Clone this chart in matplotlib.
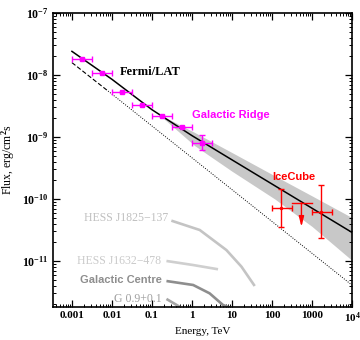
import numpy as np
import matplotlib
matplotlib.use('Agg')
import matplotlib.pyplot as plt

plt.rcParams['font.family'] = ['Liberation Serif', 'DejaVu Serif']
plt.rcParams['font.weight'] = 'bold'
plt.rcParams['mathtext.fontset'] = 'custom'
plt.rcParams['mathtext.rm'] = 'Liberation Serif:bold'
plt.rcParams['mathtext.it'] = 'Liberation Serif:bold'
plt.rcParams['mathtext.bf'] = 'Liberation Serif:bold'

# Fermi/LAT galactic ridge spectrum (TeV, erg/cm2 s)
fermi_e = [0.00178, 0.0056, 0.0178, 0.056, 0.178, 0.56, 1.78]
fermi_elo = [0.001, 0.00316, 0.01, 0.0316, 0.1, 0.316, 1.0]
fermi_ehi = [0.00316, 0.01, 0.0316, 0.1, 0.316, 1.0, 3.16]
fermi_f = [1.79e-8, 1.06e-8, 5.4e-9, 3.28e-9, 2.14e-9, 1.43e-9, 8.1e-10]
fermi_fhi = [None, None, None, None, None, None, 1.08e-9]
fermi_flo = [None, None, None, None, None, None, 6.2e-10]

# IceCube points
ice_e = [172, 1718]
ice_elo = [100, 1000]
ice_ehi = [316, 3160]
ice_f = [7.1e-11, 6.2e-11]
ice_fhi = [1.43e-10, 1.68e-10]
ice_flo = [3.57e-11, 2.32e-11]
# IceCube upper limit
ul_e = 543
ul_elo, ul_ehi = 316, 1000
ul_f = 8.7e-11
ul_end = 3.55e-11

# best fit line and its uncertainty band
line_e = [1e-3, 1e-2, 1e-1, 1, 10, 100, 1000, 1e4]
line_f = [2.4e-8, 8.5e-9, 2.75e-9, 1.05e-9, 4.27e-10, 1.74e-10, 7.08e-11, 2.88e-11]
band_e = [0.14, 1.17, 10, 117, 1000, 1e4]
band_hi = [2.38e-9, 1.18e-9, 5.6e-10, 2.36e-10, 1.12e-10, 5.0e-11]
band_lo = [2.38e-9, 7.24e-10, 2.8e-10, 1.0e-10, 3.6e-11, 1.02e-11]

# simple power law (dashed in Fermi range, dotted extrapolation)
pl_e = [1e-3, 8e-3, 1e4]
pl_f = [1.58e-8, 5.5e-9, 4.07e-12]

# HESS sources
j1825_e = [0.305, 1.56, 7.24, 17.2, 36.9]
j1825_f = [4.47e-11, 3.16e-11, 1.5e-11, 8.1e-12, 3.95e-12]
j1632_e = [0.23, 1.07, 4.47]
j1632_f = [1.0e-11, 8.6e-12, 7.35e-12]
gc_e = [0.23, 1.07, 2.75, 5.96, 10.5]
gc_f = [4.75e-12, 4.1e-12, 3.01e-12, 1.95e-12, 1.7e-12]
g09_e = [0.23, 0.49, 0.7]
g09_f = [2.44e-12, 1.83e-12, 1.48e-12]

xticks = [1e-3, 1e-2, 1e-1, 1, 10, 100, 1000, 1e4]
xticklabels = ['0.001', '0.01', '0.1', '1', '10', '100', '1000', '$10^4$']
yticks = [1e-11, 1e-10, 1e-9, 1e-8, 1e-7]
yticklabels = ['$10^{-11}$', '$10^{-10}$', '$10^{-9}$', '$10^{-8}$', '$10^{-7}$']

fig = plt.figure(figsize=(3.6, 3.4), dpi=100)
ax = fig.add_axes([0.147, 0.098, 0.831, 0.864])
ax.set_xscale('log')
ax.set_yscale('log')

ax.fill_between(band_e, band_lo, band_hi, color='#c8c8c8', lw=0, zorder=1)
ax.plot(line_e, line_f, color='black', lw=1.1, zorder=3)
ax.plot(pl_e[:2], pl_f[:2], color='black', lw=0.8, ls=(0, (4, 2)), zorder=2)
ax.plot(pl_e[1:], pl_f[1:], color='black', lw=0.7, ls=(0, (1, 1.5)), zorder=2)

ax.plot(j1825_e, j1825_f, color='#c4c4c4', lw=1.9, solid_capstyle='butt')
ax.plot(j1632_e, j1632_f, color='#cfcfcf', lw=1.9, solid_capstyle='butt')
ax.plot(gc_e, gc_f, color='#8e8e8e', lw=1.9, solid_capstyle='butt')
ax.plot(g09_e, g09_f, color='#a6a6a6', lw=1.9, solid_capstyle='butt')

# Fermi points
fe = np.array(fermi_e)
ff = np.array(fermi_f)
xerr = [fe - np.array(fermi_elo), np.array(fermi_ehi) - fe]
yerr_lo = [0 if v is None else f - v for f, v in zip(fermi_f, fermi_flo)]
yerr_hi = [0 if v is None else v - f for f, v in zip(fermi_f, fermi_fhi)]
ax.errorbar(fe, ff, xerr=xerr, yerr=[yerr_lo, yerr_hi], fmt='s', ms=2.5,
            color='#ff00ff', ecolor='#ff00ff', elinewidth=1.0, capsize=2,
            capthick=1.0, zorder=5)

# IceCube points
ie = np.array(ice_e)
iff = np.array(ice_f)
ax.errorbar(ie, iff,
            xerr=[ie - np.array(ice_elo), np.array(ice_ehi) - ie],
            yerr=[iff - np.array(ice_flo), np.array(ice_fhi) - iff],
            fmt='o', ms=1.5, color='#ff0000', elinewidth=1.0, capsize=2,
            capthick=1.0, zorder=5)
ax.plot([ul_elo, ul_ehi], [ul_f, ul_f], color='#ff0000', lw=1.0, zorder=5)
ax.annotate('', xy=(ul_e, ul_end), xytext=(ul_e, ul_f),
            arrowprops=dict(arrowstyle='-|>,head_length=0.6,head_width=0.15',
                            color='#ff0000', lw=1.0, shrinkA=0, shrinkB=0),
            zorder=5)

# labels
ax.text(0.0154, 1.13e-8, 'Fermi/LAT', fontsize=9, color='black',
        ha='left', va='center')
ax.text(1.02, 2.26e-9, 'Galactic Ridge', fontsize=8, color='#ff00ff',
        ha='left', va='center', family='Liberation Sans')
ax.text(102, 2.24e-10, 'IceCube', fontsize=8, color='#ff0000',
        ha='left', va='center', family='Liberation Sans')
ax.text(0.25, 4.9e-11, 'HESS J1825\u2212137', fontsize=8.5, color='#c0c0c0',
        ha='right', va='center', weight='normal')
ax.text(0.172, 1.0e-11, 'HESS J1632\u2212478', fontsize=8.5, color='#cacaca',
        ha='right', va='center', weight='normal')
ax.text(0.172, 4.9e-12, 'Galactic Centre', fontsize=8, color='#8e8e8e',
        ha='right', va='center', family='Liberation Sans')
ax.text(0.172, 2.44e-12, 'G 0.9+0.1', fontsize=8.5, color='#a0a0a0',
        ha='right', va='center', weight='normal')

ax.set_xlim(10 ** -3.475, 1e4)
ax.set_ylim(10 ** -11.737, 1e-7)
ax.set_xticks(xticks)
ax.set_xticklabels(xticklabels)
ax.set_yticks(yticks)
ax.set_yticklabels(yticklabels)
ax.xaxis.set_minor_locator(matplotlib.ticker.LogLocator(base=10, subs=np.arange(2, 10)))
ax.yaxis.set_minor_locator(matplotlib.ticker.LogLocator(base=10, subs=np.arange(2, 10)))
ax.xaxis.set_minor_formatter(matplotlib.ticker.NullFormatter())
ax.yaxis.set_minor_formatter(matplotlib.ticker.NullFormatter())
ax.tick_params(which='both', direction='in', top=True, right=True, labelsize=8.5)
ax.tick_params(axis='x', which='major', pad=3, labelsize=8)
ax.tick_params(which='major', length=5, width=0.9)
ax.tick_params(which='minor', length=2.5, width=0.7)
for s in ax.spines.values():
    s.set_linewidth(1.2)

ax.set_xlabel('Energy, TeV', fontsize=8, labelpad=1)
ax.set_ylabel('Flux, erg/cm$^2$s', fontsize=8.5, labelpad=3)

fig.savefig('out.png', dpi=100)
